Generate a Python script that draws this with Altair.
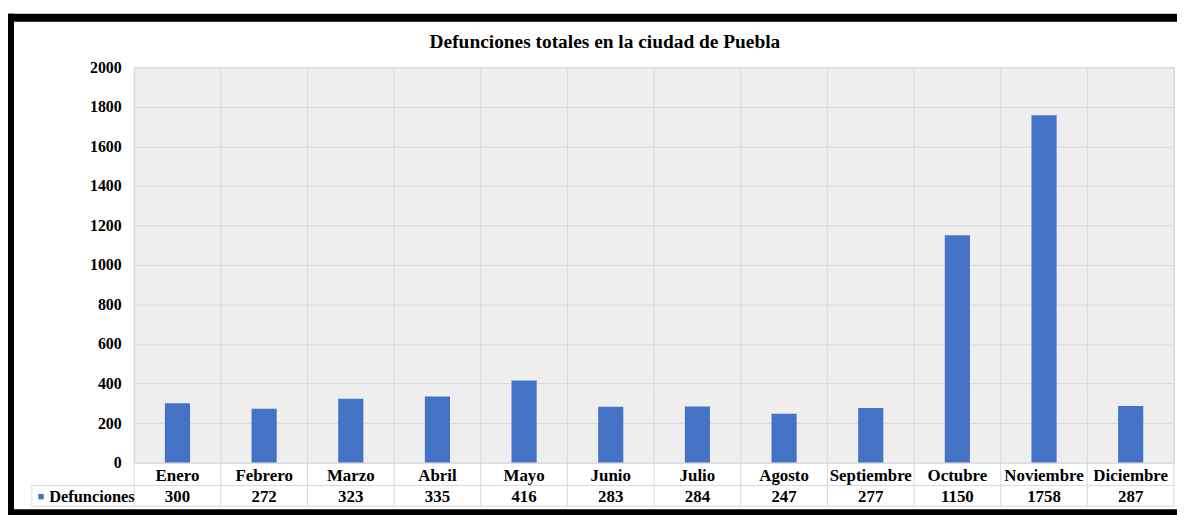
import altair as alt
import pandas as pd

meses = ["Enero", "Febrero", "Marzo", "Abril", "Mayo", "Junio", "Julio",
         "Agosto", "Septiembre", "Octubre", "Noviembre", "Diciembre"]
defunciones = [300, 272, 323, 335, 416, 283, 284, 247, 277, 1150, 1758, 287]
serie = "Defunciones"
titulo = "Defunciones totales en la ciudad de Puebla"
y_ticks = list(range(0, 2001, 200))

df = pd.DataFrame({"mes": meses, "valor": defunciones, "serie": [serie] * len(meses)})

W, H = 1047, 398
FONT = "Liberation Serif"
GRID = "#d9d9d9"
BLUE = "#4472C4"

base = alt.Chart(df)
xsc = alt.Scale(paddingInner=0, paddingOuter=0)
xaxis = alt.Axis(labelAngle=0, ticks=False, domain=False, grid=False,
                 labelFont=FONT, labelFontWeight="bold", labelFontSize=17,
                 labelColor="black", labelBaseline="middle", labelPadding=13)

bars = base.mark_bar(width=alt.RelativeBandSize(0.29)).encode(
    x=alt.X("mes:N", sort=meses, scale=xsc, title=None, axis=xaxis),
    y=alt.Y("valor:Q", title=None,
            scale=alt.Scale(domain=[0, 2000], nice=False),
            axis=alt.Axis(values=y_ticks, format="d", ticks=False, domain=False, grid=True,
                          gridColor=GRID, labelFont=FONT, labelFontWeight="bold",
                          labelFontSize=16, labelColor="black", labelPadding=13)),
    color=alt.Color("serie:N", scale=alt.Scale(range=[BLUE]),
                    legend=alt.Legend(title=None, orient="none", legendX=-107, legendY=424,
                                      symbolType="square", symbolSize=30, symbolOffset=5,
                                      symbolStrokeWidth=0, labelFont=FONT,
                                      labelFontWeight="bold", labelFontSize=16.5,
                                      labelColor="black", labelOffset=0, padding=0)),
)

# vertical grid / table separators at category boundaries
vlines = base.mark_rule(color=GRID, strokeWidth=1).encode(
    x=alt.X("mes:N", sort=meses, scale=xsc, bandPosition=0, title=None, axis=xaxis),
    y=alt.value(0),
    y2=alt.value(H + 44),
)

valores = base.mark_text(font=FONT, fontWeight="bold", fontSize=17, color="black",
                         baseline="middle").encode(
    x=alt.X("mes:N", sort=meses, scale=xsc, bandPosition=0.5, title=None, axis=xaxis),
    y=alt.value(H + 34.5),
    text=alt.Text("valor:Q"),
)

# table outline lines
line_df = pd.DataFrame({"k": [0]})
lb = alt.Chart(line_df)
tabla = alt.layer(
    lb.mark_rule(color=GRID).encode(x=alt.value(-103), x2=alt.value(W), y=alt.value(H + 23)),
    lb.mark_rule(color=GRID).encode(x=alt.value(-103), x2=alt.value(W), y=alt.value(H + 44)),
    lb.mark_rule(color=GRID).encode(x=alt.value(-103), y=alt.value(H + 23), y2=alt.value(H + 44)),
    lb.mark_rule(color=GRID).encode(x=alt.value(W), y=alt.value(0), y2=alt.value(H + 44)),
)

# outer black frame
marco = alt.layer(
    lb.mark_rule(color="black", strokeWidth=8).encode(x=alt.value(-128), x2=alt.value(1052), y=alt.value(-50)),
    lb.mark_rule(color="black", strokeWidth=7).encode(x=alt.value(-124.5), y=alt.value(-54), y2=alt.value(452)),
    lb.mark_rule(color="black", strokeWidth=6).encode(x=alt.value(-128), x2=alt.value(1052), y=alt.value(448)),
)

titulo_txt = lb.mark_text(font=FONT, fontWeight="bold", fontSize=19.5, color="black",
                          baseline="middle", align="center").encode(
    x=alt.value(474), y=alt.value(-25), text=alt.value(titulo)
)

chart = alt.layer(vlines, tabla, bars, valores, titulo_txt, marco).properties(
    width=W, height=H,
    padding={"left": 127, "top": 58, "right": 3, "bottom": 51},
    autosize=alt.AutoSizeParams(type="none"),
    background="white",
).configure_view(fill="#eeeeee", stroke=GRID)

chart.save("out.html", embed_options={"renderer": "svg", "actions": False})
